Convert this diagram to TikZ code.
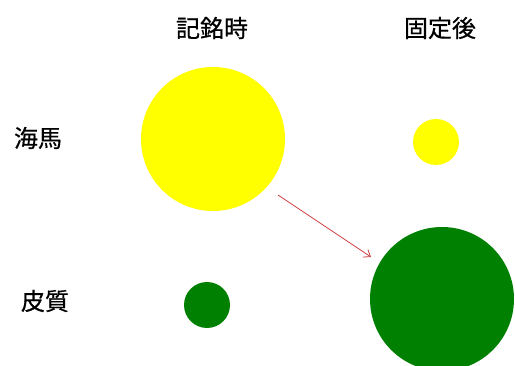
\documentclass[tikz,border=0pt]{standalone}
\usepackage{fontspec}
\newfontfamily\cjk[FakeBold=0.6]{Noto Sans CJK JP}
\usetikzlibrary{arrows.meta}
\definecolor{ylw}{RGB}{255,255,0}
\definecolor{grn}{RGB}{0,128,0}
\definecolor{arr}{RGB}{205,60,60}
\tikzset{
  lbl/.style={font=\cjk\fontsize{24}{28}\selectfont, text=black, inner sep=0pt},
  ball/.style={circle, inner sep=0pt, draw=none},
  conn/.style={draw=arr, line width=0.8pt, -{Straight Barb[length=6pt,width=9pt]}}
}
\begin{document}
\begin{tikzpicture}[x=1pt,y=1pt]
\useasboundingbox (0,0) rectangle (515,365);
\node[lbl] (t1) at (212,337) {記銘時};
\node[lbl] (t2) at (440,337) {固定後};
\node[lbl] (r1) at (38,227) {海馬};
\node[lbl] (r2) at (45,64) {皮質};
\node[ball, fill=ylw, minimum size=144pt] (y1) at (213,226) {};
\node[ball, fill=ylw, minimum size=46pt] (y2) at (436,223) {};
\node[ball, fill=grn, minimum size=46pt] (g1) at (207,60) {};
\node[ball, fill=grn, minimum size=144pt] (g2) at (442,66) {};
\coordinate (a1) at (278,170);
\coordinate (a2) at (371,108);
\draw[conn] (a1) -- (a2);
\end{tikzpicture}
\end{document}
